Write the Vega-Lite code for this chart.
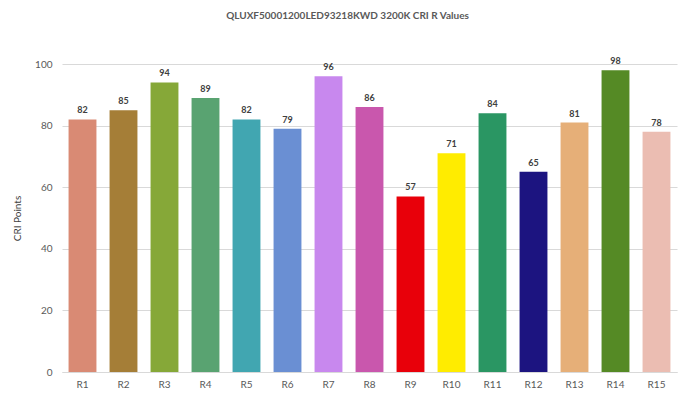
{
  "$schema": "https://vega.github.io/schema/vega-lite/v6.json",
  "autosize": {"type": "none"},
  "width": 615,
  "height": 308,
  "padding": {"left": 62, "top": 64, "right": 17, "bottom": 34},
  "background": "white",
  "title": {
    "text": "QLUXF50001200LED93218KWD 3200K CRI R Values",
    "font": "Lato",
    "fontSize": 10,
    "fontWeight": "bold",
    "color": "#595959",
    "anchor": "middle",
    "dx": -22,
    "offset": 36
  },
  "config": {
    "view": {"stroke": null},
    "font": "Lato"
  },
  "data": {
    "values": [
      {"r": "R1", "v": 82, "c": "#D98A74"},
      {"r": "R2", "v": 85, "c": "#A57E37"},
      {"r": "R3", "v": 94, "c": "#86A838"},
      {"r": "R4", "v": 89, "c": "#59A371"},
      {"r": "R5", "v": 82, "c": "#41A6B1"},
      {"r": "R6", "v": 79, "c": "#6A8FD3"},
      {"r": "R7", "v": 96, "c": "#C888EE"},
      {"r": "R8", "v": 86, "c": "#C957AD"},
      {"r": "R9", "v": 57, "c": "#E8000A"},
      {"r": "R10", "v": 71, "c": "#FFEC00"},
      {"r": "R11", "v": 84, "c": "#2A9663"},
      {"r": "R12", "v": 65, "c": "#1C1480"},
      {"r": "R13", "v": 81, "c": "#E6AF78"},
      {"r": "R14", "v": 98, "c": "#558A25"},
      {"r": "R15", "v": 78, "c": "#EBBDB2"}
    ]
  },
  "encoding": {
    "x": {
      "field": "r",
      "type": "nominal",
      "sort": null,
      "scale": {"paddingInner": 0.32, "paddingOuter": 0.16},
      "axis": {
        "title": null,
        "labelAngle": 0,
        "labelFontSize": 10,
        "labelColor": "#595959",
        "labelPadding": 7,
        "ticks": false,
        "domainColor": "#D9D9D9",
        "domainWidth": 1
      }
    },
    "y": {
      "field": "v",
      "type": "quantitative",
      "scale": {"domain": [0, 100]},
      "axis": {
        "title": "CRI Points",
        "titleFontSize": 10,
        "titleFontWeight": "normal",
        "titleColor": "#404040",
        "titlePadding": 12,
        "values": [0, 20, 40, 60, 80, 100],
        "labelFontSize": 10,
        "labelColor": "#595959",
        "labelPadding": 10,
        "ticks": false,
        "domain": false,
        "gridColor": "#D9D9D9"
      }
    }
  },
  "layer": [
    {
      "mark": {"type": "bar"},
      "encoding": {
        "color": {"field": "c", "type": "nominal", "scale": null}
      }
    },
    {
      "mark": {"type": "text", "dy": -9, "fontSize": 9, "fontWeight": "bold", "color": "#404040"},
      "encoding": {"text": {"field": "v", "type": "quantitative"}}
    }
  ]
}
